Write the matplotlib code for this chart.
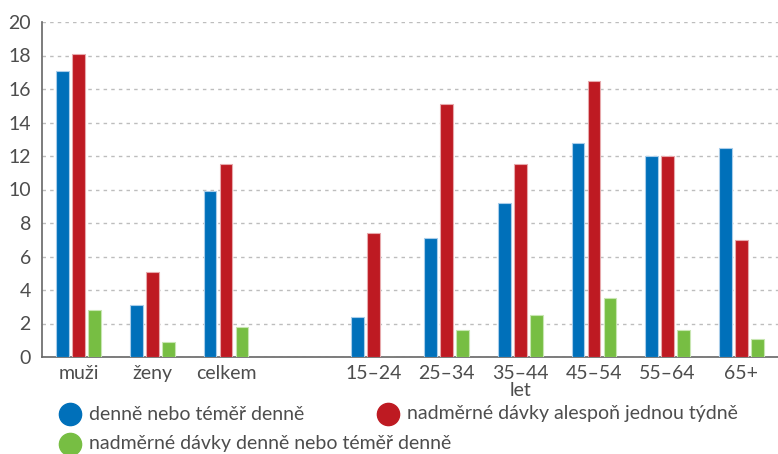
import numpy as np
import matplotlib.pyplot as plt
from matplotlib.lines import Line2D

plt.rcParams['font.family'] = ['Lato', 'DejaVu Sans']

# data
categories = ["muži", "ženy", "celkem", "", "15–24", "25–34", "35–44\nlet", "45–54", "55–64", "65+"]
daily = [17.1, 3.1, 9.9, np.nan, 2.4, 7.1, 9.2, 12.8, 12.0, 12.5]
weekly_excess = [18.1, 5.1, 11.5, np.nan, 7.4, 15.1, 11.5, 16.5, 12.0, 7.0]
daily_excess = [2.8, 0.9, 1.8, np.nan, 0.0, 1.6, 2.5, 3.5, 1.6, 1.1]
series_names = ["denně nebo téměř denně",
                "nadměrné dávky alespoň jednou týdně",
                "nadměrné dávky denně nebo téměř denně"]

colors = ["#0070ba", "#be1a22", "#77be43"]
edges = ["#a9cdea", "#e7a9ac", "#c8e6b2"]
txt = "#4d4d4d"

fig = plt.figure(figsize=(7.78, 4.54), dpi=100)
ax = fig.add_axes([42/778, 1 - 357/454, 736/778, 335/454])

x = np.arange(len(categories))
w = 0.175
off = 0.217
for i, vals in enumerate([daily, weekly_excess, daily_excess]):
    ax.bar(x + (i - 1) * off, vals, width=w, color=colors[i],
           edgecolor=edges[i], linewidth=0.8, zorder=3)

ax.set_xlim(-0.5, len(categories) - 0.5)
ax.set_ylim(0, 20)
ax.set_yticks(range(0, 21, 2))
ax.set_xticks(x)
ax.set_xticklabels(categories, linespacing=1.0)
ax.yaxis.grid(True, linestyle=(0, (2.5, 3)), color="#bdbdbd", linewidth=1.0, zorder=0)
ax.tick_params(axis="both", length=0, labelsize=14, colors=txt, pad=6)
ax.tick_params(axis="y", pad=8)
for s in ["top", "right"]:
    ax.spines[s].set_visible(False)
ax.spines["left"].set_color("#666666")
ax.spines["bottom"].set_color("#666666")
ax.spines["left"].set_linewidth(1.2)
ax.spines["bottom"].set_linewidth(1.2)

# legend drawn by hand
legend_pos = [(70, 414), (388, 414), (70, 444)]
for (px, py), c, name in zip(legend_pos, colors, series_names):
    fig.add_artist(Line2D([px / 778], [1 - py / 454], marker="o", markersize=16,
                          color=c, linestyle="none"))
    fig.text((px + 19) / 778, 1 - py / 454, name, fontsize=14, color=txt,
             va="center", ha="left")

fig.savefig("out.png", dpi=100)
